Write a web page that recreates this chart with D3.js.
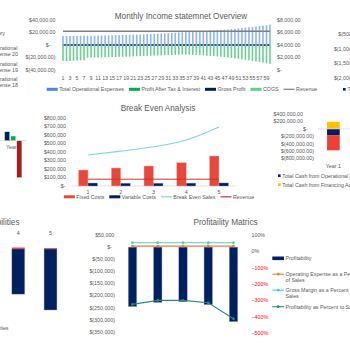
<!DOCTYPE html>
<html>
<head>
<meta charset="utf-8">
<script src="https://cdn.jsdelivr.net/npm/d3@7"></script>
<style>
  body { margin: 0; background: #fff; }
  svg { display: block; }
  text { font-family: "Liberation Sans", Arial, sans-serif; }
</style>
</head>
<body>
<script>
// ---------- monthly income statement ----------
const months = d3.range(1, 61);
const opExpense = [
  14500, 14500, 14600, 14600, 14700, 14700, 14800, 14900, 14900, 15000,
  15100, 15200, 15300, 15400, 15500, 15700, 15800, 16000, 16100, 16300,
  16500, 16700, 16900, 17100, 17400, 17600, 17900, 18200, 18500, 18800,
  19100, 19400, 19700, 20000, 20300, 20600, 20900, 21200, 21500, 21800,
  22100, 22400, 22800, 23200, 23600, 24000, 24500, 25000, 25500, 26000,
  26600, 27200, 27800, 28400, 29000, 29700, 30400, 31100, 31800, 32500];
const profitAfterTax = [
  -25500, -25800, -25600, -25200, -25000, -24700, -24500,
  -20500, -20300, -20100, -20000, -19800, -19600, -19500, -19300, -19200, -19000, -18800, -18600, -18400,
  -18200, -18000, -17800, -17600, -17400, -17200, -17000, -16800, -16600, -16400, -16200, -16000, -15800, -15600, -15500,
  -15500, -15600, -15800, -16000, -16300, -16600, -17000, -17400, -17800, -18300,
  -18800, -19400, -20000, -20700, -21400, -22100, -22900, -23700, -24500, -25400, -26300, -27200, -28100, -29000, -30000];
const grossProfit = [
  4000, 4000, 4000, 4000, 4000, 4000, 4000, 4000, 4000, 4000,
  4000, 4000, 4000, 4000, 4000, 4000, 4000, 4000, 4000, 4000,
  4000, 4000, 4000, 4000, 4000, 4000, 4000, 4000, 4000, 4000,
  4000, 4000, 4000, 4000, 4000, 4000, 4000, 4000, 4000, 4000,
  4000, 4000, 4000, 4000, 4000, 4000, 4000, 4000, 4000, 4000,
  4000, 4000, 4000, 4000, 4000, 4000, 4000, 4000, 4000, 4000];
const monthRevenue = [
  6200, 6200, 6200, 6200, 6200, 6200, 6200, 6200, 6200, 6200,
  6200, 6200, 6200, 6200, 6200, 6200, 6200, 6200, 6200, 6200,
  6200, 6200, 6200, 6200, 6200, 6200, 6200, 6200, 6200, 6200,
  6200, 6200, 6200, 6200, 6200, 6200, 6200, 6200, 6200, 6200,
  6200, 6200, 6200, 6200, 6200, 6200, 6200, 6200, 6200, 6200,
  6200, 6200, 6200, 6200, 6200, 6200, 6200, 6200, 6200, 6200];
const monthLeftTicks = [40000, 20000, 0, -20000, -40000];
const monthRightTicks = [8000, 6000, 4000, 2000, 0];
const monthLegend = ["Total Operational Expenses", "Profit After Tax & Interest", "Gross Profit", "COGS", "Revenue"];
const expenseLegend = ["Salary", ["Operational", "Expense 20"], ["Operational", "Expense 19"], ["Operational", "Expense 18"]];
const farRightTicks = [-500000, -1000000, -1500000, -2000000];

// ---------- break even ----------
const beYears = [1, 2, 3, 4, 5];
const fixedCosts = [188000, 212000, 235000, 274000, 353000];
const variableCosts = [35000, 33000, 33000, 34000, 36000];
const breakEvenSales = [365000, 410000, 462000, 541000, 694000];
const beRevenue = [80000, 80000, 80000, 80000, 80000];
const beTicks = [0, 100000, 200000, 300000, 400000, 500000, 600000, 700000, 800000];
const beLegend = ["Fixed Costs", "Variable Costs", "Break Even Sales", "Revenue"];

// ---------- small year 1 chart (left) ----------
const miniKeys = ["a", "b", "c"];
const miniValues = [90000, 47000, -370000];

// ---------- cash flow ----------
const cashYears = ["Year 1"];
const cashOperational = [-170000];
const cashFinancing = [190000];
const cashInvesting = [-410000];
const cashTicks = [400000, 200000, 0, -200000, -400000, -600000, -800000];
const cashLegend = ["Total Cash from Operational Activities", "Total Cash from Financing Activities"];

// ---------- assets / liabilities (bottom left) ----------
const alYears = [4, 5];
const alMain = [-185000, -250000];
const alCap = [6000, 3500];

// ---------- profitability ----------
const profYears = [1, 2, 3, 4, 5];
const profitability = [-245000, -228000, -225000, -237000, -307000];
const opExPct = [0.32, 0.32, 0.32, 0.32, 0.32];
const grossMarginPct = [0.53, 0.53, 0.53, 0.53, 0.53];
const profitPct = [-3.25, -3.0, -3.0, -3.15, -4.13];
const profLeftTicks = [50000, 0, -50000, -100000, -150000, -200000, -250000, -300000, -350000];
const profRightTicks = [1, 0, -1, -2, -3, -4, -5];
const profLegend = [["Profitability"], ["Operating Expense as a Percent", "of Sales"], ["Gross Margin as a Percent of", "Sales"], ["Profitability as Percent to Sales"]];

const width = 350, height = 350;
const grey = "#595959", navy = "#002060", red = "#e8473b", axisGrey = "#d9d9d9";
const fs = 5.3, titleFs = 8.2;

const svg = d3.select("body").append("svg").attr("width", width).attr("height", height);

function acct(v, dec) {
  if (v === 0) return "$-";
  const s = d3.format(`,.${dec}f`)(Math.abs(v));
  return v < 0 ? `$(${s})` : `$${s}`;
}

function labels(g, ticks, y, x, anchor, fmt, dx, fill) {
  g.append("g").selectAll("text").data(ticks).join("text")
    .attr("x", d => x + (dx ? dx(d) : 0))
    .attr("y", d => y(d))
    .attr("dy", "0.35em")
    .attr("text-anchor", anchor)
    .attr("font-size", fs)
    .attr("fill", d => fill ? fill(d) : grey)
    .text(fmt);
}

function title(txt, x, y, anchor) {
  svg.append("text").attr("x", x).attr("y", y).attr("text-anchor", anchor || "middle")
    .attr("font-size", titleFs).attr("fill", grey).text(txt);
}

// horizontal legend, centred on cx
function hLegend(names, colors, kinds, cx, y) {
  const g = svg.append("g");
  let x = 0;
  names.forEach((n, i) => {
    if (kinds[i] === "bar") {
      g.append("rect").attr("x", x).attr("y", y - 1.5).attr("width", 11).attr("height", 3).attr("fill", colors[i]);
    } else {
      g.append("line").attr("x1", x).attr("x2", x + 11).attr("y1", y).attr("y2", y)
        .attr("stroke", colors[i]).attr("stroke-width", 1.2);
    }
    const t = g.append("text").attr("x", x + 12.5).attr("y", y).attr("dy", "0.35em")
      .attr("font-size", fs).attr("fill", grey).text(n);
    x += 12.5 + t.node().getComputedTextLength() + 5;
  });
  g.attr("transform", `translate(${cx - (x - 5) / 2},0)`);
}

// ================= Monthly Income statement =================
{
  const x = d3.scaleBand().domain(months).range([61.5, 271.5]).paddingInner(0.55).paddingOuter(0.2);
  const yL = d3.scaleLinear().domain([-40000, 40000]).range([70, 20]);
  const yR = d3.scaleLinear().domain([0, 8000]).range([70, 20]);
  const cx = d => x(d) + x.bandwidth() / 2;
  const g = svg.append("g");

  title("Monthly Income statemnet Overview", 181, 19);

  g.append("path")
    .attr("d", d3.line().x((d, i) => cx(months[i])).y(d => yR(d))(grossProfit))
    .attr("fill", "none").attr("stroke", navy).attr("stroke-width", 1.3);

  g.append("g").selectAll("rect").data(opExpense).join("rect")
    .attr("x", (d, i) => x(months[i])).attr("width", x.bandwidth())
    .attr("y", d => yL(d)).attr("height", d => yL(0) - yL(d))
    .attr("fill", "#8db5f3");
  g.append("g").selectAll("rect").data(profitAfterTax).join("rect")
    .attr("x", (d, i) => x(months[i])).attr("width", x.bandwidth())
    .attr("y", yL(0)).attr("height", d => yL(d) - yL(0))
    .attr("fill", "#6ccf95");

  g.append("path")
    .attr("d", d3.line().x((d, i) => cx(months[i])).y(d => yR(d))(monthRevenue))
    .attr("fill", "none").attr("stroke", "#7f7f7f").attr("stroke-width", 1.3);

  labels(g, monthLeftTicks, yL, 55.5, "end", d => acct(d, 2), d => d === 0 ? -5 : 0);
  labels(g, monthRightTicks, yR, 277, "start", d => acct(d, 2));

  g.append("g").selectAll("text").data(months.filter(m => m % 2 === 1)).join("text")
    .attr("x", d => cx(d)).attr("y", 79.5).attr("text-anchor", "middle")
    .attr("font-size", fs).attr("fill", grey).text(d => d);

  hLegend(monthLegend, ["#4a86e8", "#00b050", navy, "#5fd08c", "#7f7f7f"],
    ["bar", "bar", "bar", "bar", "line"], 182, 89.3);

  // legend of a neighbouring chart, cut by the left edge
  const lg = svg.append("g");
  expenseLegend.forEach((item, i) => {
    const lines = Array.isArray(item) ? item : [item];
    const t = lg.append("text").attr("x", -10).attr("y", 33.3 + i * 15.3)
      .attr("font-size", fs).attr("fill", grey);
    lines.forEach((l, j) => t.append("tspan").attr("x", -10).attr("dy", j === 0 ? "0.35em" : "1.1em").text(l));
  });

  // axis of a neighbouring chart, cut by the right edge
  const yFar = d3.scaleLinear().domain([-2000000, -500000]).range([77.7, 34.3]);
  labels(svg, farRightTicks, yFar, 371.3, "end", d => acct(d, 2));
  svg.append("rect").attr("x", 343).attr("y", 88).attr("width", 2.6).attr("height", 2.6).attr("fill", navy);
  svg.append("text").attr("x", 347.5).attr("y", 89.3).attr("dy", "0.35em").attr("font-size", fs)
    .attr("fill", grey).text("Total");
}

// ================= small Year 1 chart =================
{
  const x = d3.scaleBand().domain(miniKeys).range([4.6, 21.9]).paddingInner(0.15);
  const y = d3.scaleLinear().domain([-400000, 0]).range([180.7, 140.7]);
  const colors = [navy, "#00b050", "#a31f1c"];
  svg.append("line").attr("x1", 0).attr("x2", 26).attr("y1", y(0)).attr("y2", y(0))
    .attr("stroke", axisGrey).attr("stroke-width", 0.8);
  svg.append("text").attr("x", 13.5).attr("y", 149).attr("text-anchor", "middle")
    .attr("font-size", fs).attr("fill", grey).text("Year 1");
  svg.append("g").selectAll("rect").data(miniValues).join("rect")
    .attr("x", (d, i) => x(miniKeys[i])).attr("width", x.bandwidth())
    .attr("y", d => y(Math.max(0, d))).attr("height", d => Math.abs(y(d) - y(0)))
    .attr("fill", (d, i) => colors[i]).attr("stroke", "#fff").attr("stroke-width", 0.4);
}

// ================= Break Even Analysis =================
{
  const x = d3.scaleBand().domain(beYears).range([71.65, 235.35]).paddingInner(0.42).paddingOuter(0.21);
  const x1 = d3.scaleBand().domain(["fixed", "variable"]).range([0, x.bandwidth()]);
  const y = d3.scaleLinear().domain([0, 800000]).range([186, 118]);
  const cx = d => x(d) + x.bandwidth() / 2;
  const g = svg.append("g");

  title("Break Even Analysis", 158, 111);

  g.append("line").attr("x1", 71.65).attr("x2", 235.35).attr("y1", y(0)).attr("y2", y(0))
    .attr("stroke", axisGrey).attr("stroke-width", 0.8);

  g.append("g").selectAll("rect").data(fixedCosts).join("rect")
    .attr("x", (d, i) => x(beYears[i]) + x1("fixed")).attr("width", x1.bandwidth())
    .attr("y", d => y(d)).attr("height", d => y(0) - y(d))
    .attr("fill", red).attr("stroke", "#f6b3ad").attr("stroke-width", 0.5);
  g.append("g").selectAll("rect").data(variableCosts).join("rect")
    .attr("x", (d, i) => x(beYears[i]) + x1("variable")).attr("width", x1.bandwidth())
    .attr("y", d => y(d)).attr("height", d => y(0) - y(d))
    .attr("fill", navy).attr("stroke", "#8fa0c4").attr("stroke-width", 0.4);

  const line = d3.line().x((d, i) => cx(beYears[i])).y(d => y(d)).curve(d3.curveMonotoneX);
  g.append("path").attr("d", line(breakEvenSales)).attr("fill", "none")
    .attr("stroke", "#7fd3dd").attr("stroke-width", 1.1);
  g.append("path").attr("d", line(beRevenue)).attr("fill", "none")
    .attr("stroke", "#c0392b").attr("stroke-width", 1);

  labels(g, beTicks, y, 66, "end", d => acct(d, 0), d => d === 0 ? -0.5 : 0);
  g.append("g").selectAll("text").data(beYears).join("text")
    .attr("x", d => cx(d)).attr("y", 194).attr("text-anchor", "middle")
    .attr("font-size", fs).attr("fill", grey).text(d => d);

  hLegend(beLegend, [red, navy, "#7fd3dd", "#c0392b"], ["bar", "bar", "line", "line"], 159, 196.8);
}

// ================= Cash flow (right) =================
{
  const x = d3.scaleBand().domain(cashYears).range([318.6, 348.2]).padding(0.4);
  const y = d3.scaleLinear().domain([-800000, 400000]).range([158.5, 114]);
  const rows = cashYears.map((c, i) => ({ year: c, operational: cashOperational[i], financing: cashFinancing[i], investing: cashInvesting[i] }));
  const keys = ["operational", "financing", "investing"];
  const colors = { operational: navy, financing: "#ffc000", investing: "#ee4035" };
  const series = d3.stack().keys(keys).offset(d3.stackOffsetDiverging)(rows);
  const g = svg.append("g");

  series.forEach(s => {
    g.append("g").selectAll("rect").data(s).join("rect")
      .attr("x", d => x(d.data.year)).attr("width", x.bandwidth())
      .attr("y", d => y(Math.max(d[0], d[1]))).attr("height", d => Math.abs(y(d[0]) - y(d[1])))
      .attr("fill", colors[s.key]);
  });
  g.append("line").attr("x1", 318).attr("x2", 350).attr("y1", y(0)).attr("y2", y(0))
    .attr("stroke", axisGrey).attr("stroke-width", 0.8);

  labels(g, cashTicks, y, 314, "end", d => acct(d, 2), d => d > 0 ? -11 : d === 0 ? -6.3 : 0);
  g.append("text").attr("x", x("Year 1") + x.bandwidth() / 2).attr("y", 167.5).attr("text-anchor", "middle")
    .attr("font-size", fs).attr("fill", grey).text("Year 1");

  cashLegend.forEach((n, i) => {
    g.append("rect").attr("x", 278).attr("y", 174.4 + i * 9).attr("width", 2.6).attr("height", 2.6)
      .attr("fill", [navy, "#ffc000"][i]);
    g.append("text").attr("x", 282.3).attr("y", 175.7 + i * 9).attr("dy", "0.35em")
      .attr("font-size", fs).attr("fill", grey).text(n);
  });
}

// ================= Assets & Liabilities (bottom left, cut) =================
{
  const x = d3.scaleBand().domain(alYears).range([2.2, 66.6]).paddingInner(0.6).paddingOuter(0.3);
  const y = d3.scaleLinear().domain([-250000, 0]).range([310, 249]);
  const g = svg.append("g");
  title("Assets & Liabilities", 19.5, 225, "end");
  g.append("g").selectAll("rect").data(alMain).join("rect")
    .attr("x", (d, i) => x(alYears[i])).attr("width", x.bandwidth())
    .attr("y", y(0)).attr("height", d => y(d) - y(0))
    .attr("fill", navy).attr("stroke", "#8fa0c4").attr("stroke-width", 0.4);
  g.append("g").selectAll("rect").data(alCap).join("rect")
    .attr("x", (d, i) => x(alYears[i])).attr("width", x.bandwidth())
    .attr("y", d => y(d)).attr("height", d => y(0) - y(d))
    .attr("fill", red);
  g.append("g").selectAll("text").data(alYears).join("text")
    .attr("x", d => x(d) + x.bandwidth() / 2).attr("y", 235).attr("text-anchor", "middle")
    .attr("font-size", fs).attr("fill", grey).text(d => d);
  g.append("text").attr("x", 8.5).attr("y", 327.7).attr("dy", "0.35em").attr("text-anchor", "end")
    .attr("font-size", fs).attr("fill", grey).text("Liabilities");
}

// ================= Profitability Matrics =================
{
  const x = d3.scaleBand().domain(profYears).range([119.9, 246.1]).paddingInner(0.667).paddingOuter(0.333);
  const yL = d3.scaleLinear().domain([-350000, 50000]).range([332, 235]);
  const yR = d3.scaleLinear().domain([-5, 1]).range([333, 235]);
  const cx = d => x(d) + x.bandwidth() / 2;
  const g = svg.append("g");

  title("Profitaility Matrics", 225.5, 225);

  g.append("g").selectAll("rect").data(profitability).join("rect")
    .attr("x", (d, i) => x(profYears[i])).attr("width", x.bandwidth())
    .attr("y", yL(0)).attr("height", d => yL(d) - yL(0))
    .attr("fill", navy).attr("stroke", "#8fa0c4").attr("stroke-width", 0.4);

  const pctColors = ["#f47c2c", "#52c7d4", "#2f8585"];
  [opExPct, grossMarginPct, profitPct].forEach((vals, k) => {
    g.append("path")
      .attr("d", d3.line().x((d, i) => cx(profYears[i])).y(d => yR(d))(vals))
      .attr("fill", "none").attr("stroke", pctColors[k]).attr("stroke-width", 1.1);
    g.append("g").selectAll("circle").data(vals).join("circle")
      .attr("cx", (d, i) => cx(profYears[i])).attr("cy", d => yR(d)).attr("r", 1.4)
      .attr("fill", pctColors[k]);
  });

  labels(g, profLeftTicks, yL, 115, "end", d => acct(d, 0), d => d === 0 ? -3 : d > 0 ? -0.7 : 0);
  labels(g, profRightTicks, yR, 251.5, "start", d => d3.format(".0%")(d), null,
    d => d < 0 ? "#ff0000" : grey);

  const ly = [258.3, 274.2, 290.2, 306.7];
  profLegend.forEach((lines, i) => {
    if (i === 0) {
      g.append("rect").attr("x", 272.3).attr("y", ly[i] - 1.8).attr("width", 11.7).attr("height", 3.6).attr("fill", navy);
    } else {
      g.append("line").attr("x1", 272.3).attr("x2", 284).attr("y1", ly[i]).attr("y2", ly[i])
        .attr("stroke", pctColors[i - 1]).attr("stroke-width", 1.1);
      g.append("circle").attr("cx", 278.2).attr("cy", ly[i]).attr("r", 1.4).attr("fill", pctColors[i - 1]);
    }
    lines.forEach((l, j) => {
      g.append("text").attr("x", 285.5).attr("y", ly[i] + j * 6.3).attr("dy", "0.35em")
        .attr("font-size", fs).attr("fill", grey).text(l);
    });
  });
}
</script>
</body>
</html>
